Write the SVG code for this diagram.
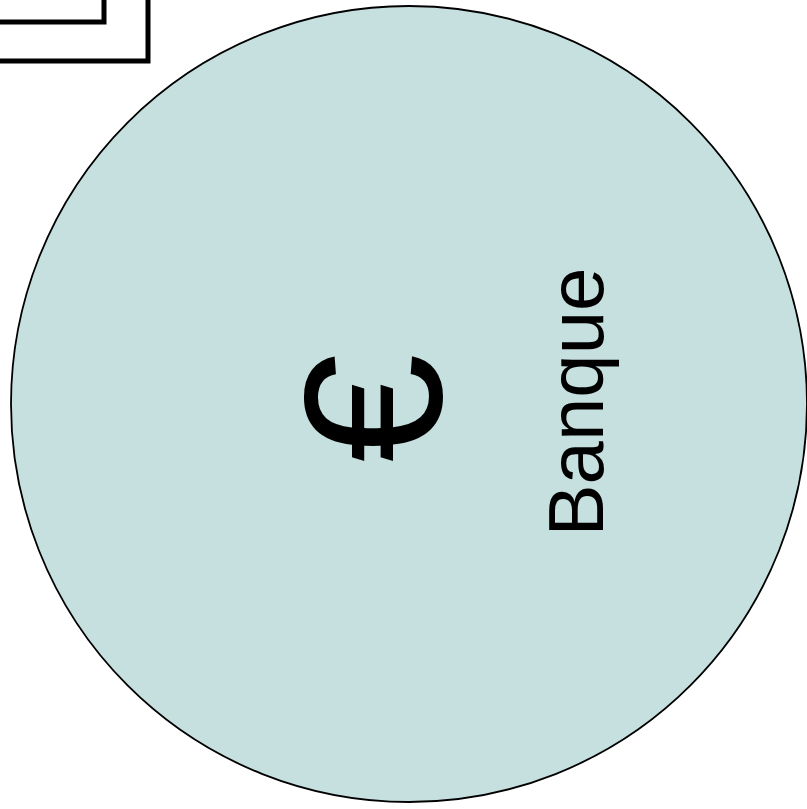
<svg xmlns="http://www.w3.org/2000/svg" width="807" height="809" viewBox="0 0 807 809">
<style>
.frame{fill:none;stroke:#000;stroke-width:5}
.lbl{font-family:"Liberation Sans",Arial,sans-serif;fill:#000;text-anchor:middle}
</style>
<rect width="807" height="809" fill="#fff"/>
<g id="frame">
<rect class="frame" x="-20" y="-20" width="168" height="81"/>
<rect class="frame" x="-20" y="-20" width="124" height="42"/>
</g>
<g id="banque">
<circle cx="409" cy="404" r="398" fill="#c6dfdf" stroke="#000" stroke-width="1.8"/>
<text class="lbl" transform="translate(441,408) rotate(-90)" font-size="196">€</text>
<text class="lbl" transform="translate(603,402) rotate(-90)" font-size="78">Banque</text>
</g>
<g id="connectors"/>
</svg>
